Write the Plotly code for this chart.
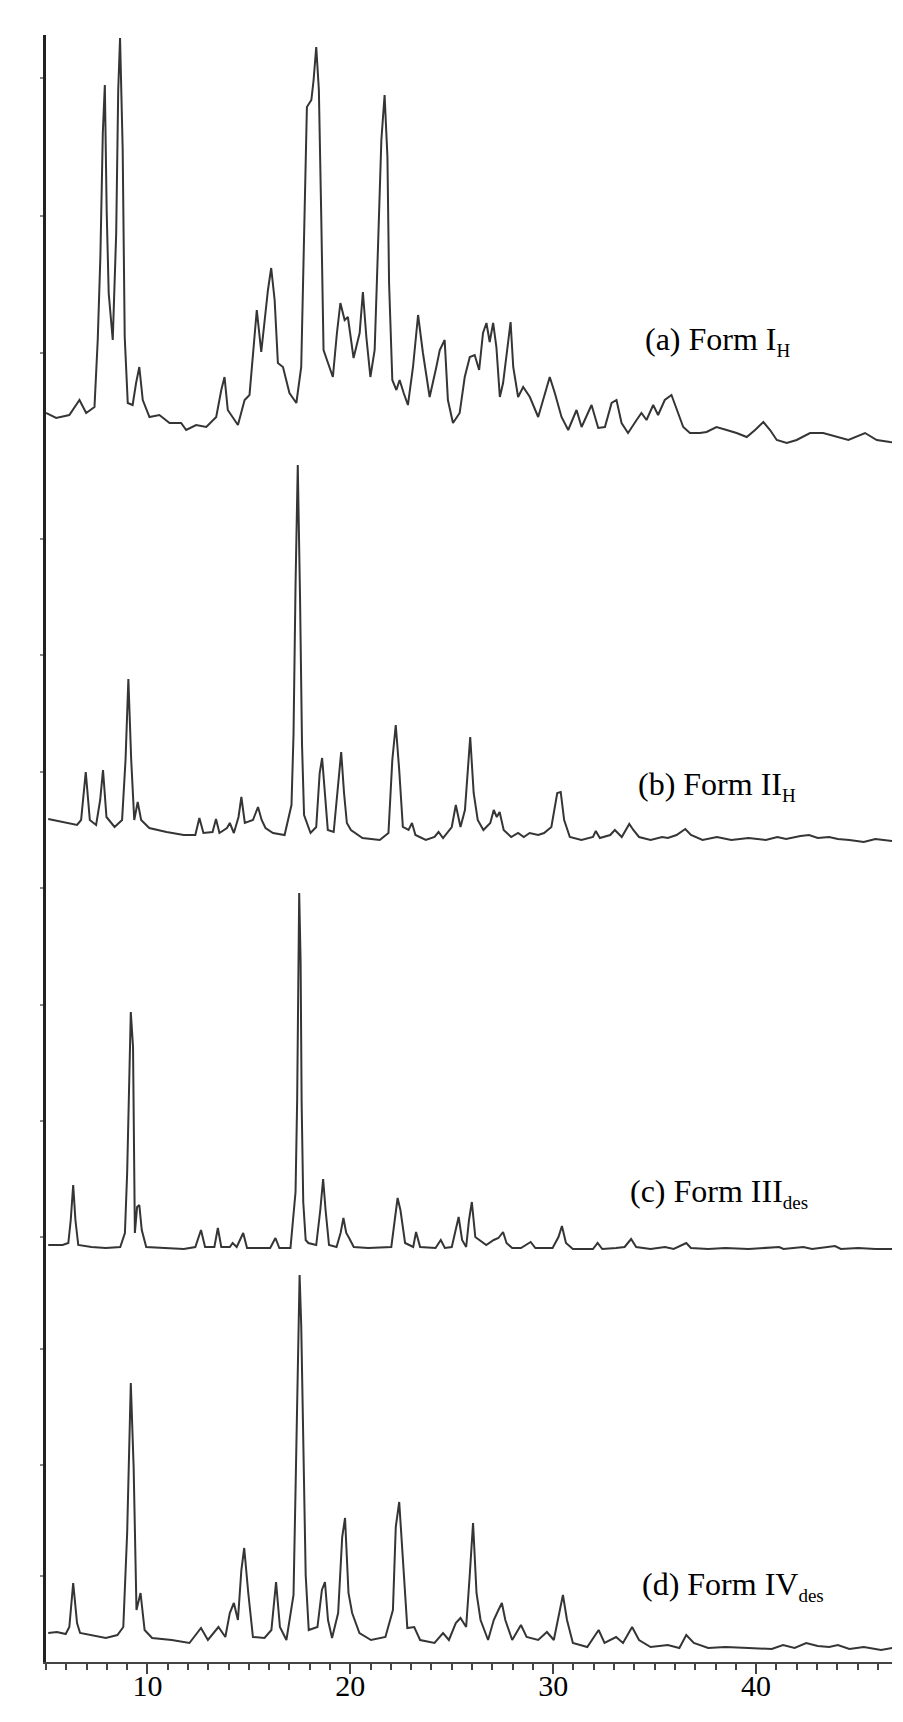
"""
Stacked XRPD patterns of four solid forms
"""
import plotly.graph_objects as go

# (a) Form I_H -- 2theta (deg) and intensity (arb. units)
tt_a = [5.0, 5.5, 6.15, 6.65, 6.98, 7.39, 7.55, 7.68, 7.8, 7.9, 7.99, 8.09, 8.29, 8.46, 8.56, 8.65,
        8.78, 8.88, 9.03, 9.27, 9.44, 9.6, 9.77, 10.1, 10.59, 11.09, 11.66, 11.91, 12.4, 12.9,
        13.39, 13.64, 13.8, 13.96, 14.46, 14.79, 15.03, 15.2, 15.39, 15.61, 15.77, 15.94, 16.1,
        16.27, 16.43, 16.68, 17.0, 17.34, 17.58, 17.75, 17.86, 18.08, 18.19, 18.32, 18.45, 18.57,
        18.68, 18.9, 19.14, 19.34, 19.51, 19.72, 19.88, 20.16, 20.46, 20.62, 20.79, 20.99, 21.2,
        21.36, 21.53, 21.69, 21.83, 21.91, 22.07, 22.27, 22.43, 22.63, 22.84, 23.09, 23.34, 23.58,
        23.91, 24.24, 24.41, 24.65, 24.81, 25.06, 25.39, 25.64, 25.89, 26.13, 26.35, 26.54, 26.71,
        26.87, 27.04, 27.2, 27.37, 27.53, 27.78, 27.9, 28.03, 28.27, 28.52, 28.85, 29.26, 29.59,
        29.83, 30.08, 30.41, 30.74, 31.15, 31.4, 31.89, 32.22, 32.55, 32.88, 33.12, 33.37, 33.69,
        34.11, 34.35, 34.6, 34.93, 35.17, 35.5, 35.83, 36.08, 36.41, 36.74, 37.23, 37.56, 38.05,
        38.55, 39.04, 39.54, 39.95, 40.36, 40.69, 41.02, 41.51, 42.0, 42.66, 43.31, 43.98, 44.55,
        45.37, 45.95, 46.6, 47.17]
int_a = [32, 27, 30, 45, 32, 38, 105, 188, 312, 360, 235, 152, 105, 212, 355, 407,
         295, 108, 42, 40, 62, 78, 45, 28, 30, 22, 22, 15, 20, 18,
         28, 55, 68, 35, 20, 45, 50, 92, 135, 93, 122, 155, 177,
         145, 82, 78, 52, 42, 78, 222, 338, 345, 365, 398, 355, 225,
         95, 82, 68, 112, 142, 125, 128, 87, 112, 153, 108, 68, 95,
         195, 305, 350, 288, 162, 65, 55, 65, 52, 40, 78, 130, 92,
         48, 78, 95, 105, 45, 22, 32, 68, 88, 90, 75, 112, 122,
         103, 122, 98, 48, 62, 102, 123, 78, 48, 58, 48, 28, 52,
         68, 52, 28, 15, 35, 18, 40, 17, 18, 42, 45, 22, 12,
         25, 32, 25, 40, 30, 45, 50, 37, 18, 12, 12, 13, 18,
         15, 12, 8, 15, 23, 15, 5, 2, 5, 12, 12, 8, 5,
         12, 5, 3, 2]

# (b) Form II_H
tt_b = [5.11, 5.82, 6.53, 6.73, 6.96, 7.16, 7.47, 7.67, 7.81, 7.98, 8.38, 8.75, 8.92, 9.06, 9.2,
        9.35, 9.52, 9.69, 10.09, 10.94, 11.79, 12.36, 12.56, 12.76, 13.21, 13.38, 13.55, 13.92,
        14.06, 14.26, 14.49, 14.63, 14.8, 15.2, 15.45, 15.63, 15.82, 16.19, 16.76, 17.1, 17.2,
        17.3, 17.41, 17.52, 17.62, 17.72, 18.04, 18.32, 18.49, 18.61, 18.75, 18.89, 19.18, 19.4,
        19.55, 19.69, 19.83, 20.03, 20.6, 21.45, 21.88, 22.07, 22.24, 22.41, 22.59, 22.87, 23.04,
        23.21, 23.72, 24.15, 24.35, 24.57, 25.0, 25.2, 25.43, 25.65, 25.91, 26.08, 26.28, 26.56,
        26.9, 27.07, 27.22, 27.36, 27.56, 27.93, 28.27, 28.55, 28.84, 29.26, 29.55, 29.91, 30.2,
        30.37, 30.54, 30.82, 31.39, 31.96, 32.1, 32.3, 32.81, 33.04, 33.38, 33.75, 33.95, 34.23,
        34.8, 35.37, 35.65, 36.08, 36.51, 36.79, 37.36, 38.07, 38.78, 39.63, 40.48, 41.05, 41.48,
        42.19, 42.61, 43.04, 43.6, 44.03, 44.6, 45.31, 45.88, 46.73]
int_b = [26, 23, 20, 25, 73, 25, 20, 45, 75, 28, 18, 25, 85, 166, 85,
         25, 43, 25, 17, 13, 10, 10, 27, 12, 13, 26, 12, 17,
         22, 12, 28, 48, 22, 25, 38, 25, 17, 12, 10, 40, 110,
         260, 380, 250, 100, 30, 12, 18, 72, 87, 52, 15, 13, 58,
         93, 52, 22, 15, 7, 5, 12, 85, 120, 75, 18, 15, 22,
         10, 5, 8, 13, 7, 18, 40, 18, 35, 108, 52, 25, 15,
         22, 35, 28, 33, 15, 8, 12, 8, 12, 10, 12, 18, 52,
         53, 25, 8, 5, 8, 14, 7, 10, 15, 8, 21, 15, 8,
         5, 8, 7, 10, 16, 10, 5, 8, 5, 7, 5, 8, 6,
         9, 10, 7, 8, 6, 5, 3, 6, 4]

# (c) Form III_des
tt_c = [5.11, 5.82, 6.1, 6.22, 6.34, 6.45, 6.59, 7.24, 7.95, 8.66, 8.89, 9.0, 9.18, 9.29, 9.38,
        9.49, 9.6, 9.72, 9.94, 10.65, 11.79, 12.36, 12.64, 12.84, 13.3, 13.47, 13.64, 14.06, 14.2,
        14.4, 14.72, 14.91, 16.05, 16.31, 16.5, 17.05, 17.3, 17.38, 17.42, 17.48, 17.55, 17.6,
        17.68, 17.8, 17.93, 18.32, 18.52, 18.66, 18.78, 18.95, 19.32, 19.52, 19.66, 19.8, 19.94,
        20.17, 20.88, 22.02, 22.19, 22.33, 22.47, 22.7, 23.1, 23.24, 23.44, 24.2, 24.46, 24.66,
        25.0, 25.2, 25.34, 25.51, 25.71, 25.85, 25.99, 26.16, 26.36, 26.7, 27.07, 27.3, 27.53,
        27.7, 27.98, 28.41, 28.89, 29.12, 29.97, 30.26, 30.43, 30.63, 30.97, 31.96, 32.19, 32.42,
        33.1, 33.52, 33.84, 34.09, 34.8, 35.51, 35.94, 36.56, 36.79, 37.64, 38.49, 39.63, 41.14,
        41.35, 42.33, 42.76, 43.89, 44.18, 45.03, 45.88, 46.73]
int_c = [7, 7, 9, 32, 67, 32, 7, 5, 4, 5, 19, 79, 240, 205, 19,
         45, 47, 22, 5, 4, 3, 5, 22, 5, 5, 24, 5, 5, 9,
         5, 19, 4, 4, 14, 4, 4, 60, 152, 275, 359, 290, 150,
         50, 12, 9, 7, 42, 73, 42, 7, 5, 19, 34, 19, 14,
         5, 4, 5, 32, 54, 42, 9, 5, 20, 5, 4, 12, 4,
         5, 24, 35, 12, 5, 32, 50, 15, 12, 7, 12, 14, 20,
         9, 4, 4, 10, 4, 4, 15, 26, 9, 3, 3, 9, 3,
         4, 5, 13, 5, 3, 5, 3, 9, 4, 3, 4, 3, 5,
         3, 5, 3, 6, 3, 4, 3, 3]

# (d) Form IV_des
tt_d = [5.11, 5.54, 5.97, 6.15, 6.34, 6.53, 6.68, 7.24, 7.95, 8.52, 8.81, 9.0, 9.18, 9.32, 9.46,
        9.66, 9.86, 10.23, 11.2, 12.07, 12.64, 12.98, 13.5, 13.84, 14.06, 14.26, 14.46, 14.63,
        14.77, 14.97, 15.2, 15.77, 16.11, 16.34, 16.53, 16.85, 17.2, 17.3, 17.4, 17.5, 17.58,
        17.68, 17.8, 17.95, 18.38, 18.6, 18.75, 18.9, 19.1, 19.4, 19.6, 19.74, 19.91, 20.09,
        20.45, 21.02, 21.73, 22.1, 22.24, 22.41, 22.59, 22.81, 23.15, 23.44, 24.15, 24.57, 24.86,
        25.2, 25.43, 25.71, 25.88, 26.05, 26.22, 26.42, 26.79, 27.07, 27.3, 27.47, 27.64, 27.98,
        28.41, 28.69, 29.26, 29.69, 30.03, 30.31, 30.48, 30.68, 30.97, 31.68, 32.24, 32.53, 33.1,
        33.44, 33.89, 34.23, 34.8, 35.65, 36.22, 36.56, 36.93, 37.64, 38.49, 39.63, 40.77, 41.33,
        41.9, 42.47, 43.04, 43.6, 44.03, 44.6, 45.31, 46.16, 46.73]
int_d = [22, 23, 21, 28, 72, 32, 22, 20, 17, 20, 28, 122, 272, 188, 45,
         62, 25, 17, 15, 12, 27, 15, 28, 18, 42, 52, 35, 85,
         107, 62, 18, 17, 25, 73, 28, 15, 60, 165, 280, 380, 330,
         200, 80, 25, 28, 65, 73, 35, 17, 42, 118, 137, 62, 42,
         22, 15, 18, 45, 128, 153, 95, 27, 28, 15, 12, 22, 15,
         32, 37, 28, 78, 132, 62, 35, 15, 35, 45, 52, 35, 15,
         30, 18, 15, 23, 15, 42, 60, 35, 12, 8, 25, 12, 18,
         12, 28, 15, 8, 10, 7, 20, 12, 7, 8, 7, 6, 10,
         7, 12, 9, 8, 10, 6, 8, 5, 7]

labels = ["(a) Form I<sub><span style='font-size:19px'>H</span></sub>",
          "(b) Form II<sub><span style='font-size:19px'>H</span></sub>",
          "(c) Form III<sub><span style='font-size:19px'>des</span></sub>",
          "(d) Form IV<sub><span style='font-size:19px'>des</span></sub>"]

# vertical stacking offsets and label anchors (data units)
offsets = [1217, 817, 410, 7]
label_x = [34.42, 34.07, 33.68, 34.27]
label_y = [1321, 876, 469, 76]

fig = go.Figure()

for tt, inten, off in zip([tt_a, tt_b, tt_c, tt_d], [int_a, int_b, int_c, int_d], offsets):
    fig.add_trace(
        go.Scatter(
            x=tt,
            y=[v + off for v in inten],
            mode="lines",
            line=dict(color="#353535", width=2),
            showlegend=False,
        )
    )

for text, lx, ly in zip(labels, label_x, label_y):
    fig.add_annotation(
        x=lx,
        y=ly,
        xref="x",
        yref="y",
        text=text,
        showarrow=False,
        xanchor="left",
        yanchor="middle",
        font=dict(size=32, color="black", family="Liberation Serif, Times New Roman, serif"),
    )

# the page body keeps its default 8 px margin, so the figure is sized to fit inside it
fig.update_layout(
    template="simple_white",
    width=887,
    height=1706,
    margin=dict(l=38, r=3, t=27, b=52),
    paper_bgcolor="white",
    plot_bgcolor="white",
    font_family="Liberation Serif, Times New Roman, serif",
)

fig.update_xaxes(
    range=[5, 46.7],
    automargin=False,
    showline=True,
    linecolor="#444444",
    linewidth=2,
    mirror=False,
    showgrid=False,
    zeroline=False,
    tickmode="linear",
    tick0=0,
    dtick=10,
    ticks="outside",
    ticklen=10,
    tickwidth=2,
    tickcolor="#444444",
    ticklabelstandoff=-14,
    tickfont=dict(size=30, color="black"),
    minor=dict(dtick=1, tick0=0, ticks="outside", ticklen=6, tickwidth=1.5, tickcolor="#444444"),
)

fig.update_yaxes(
    range=[0, 1627],
    automargin=False,
    showline=True,
    linecolor="#222222",
    linewidth=2.5,
    mirror=False,
    showgrid=False,
    zeroline=False,
    tickmode="array",
    tickvals=[1584, 1446, 1309, 1123, 1007, 890, 774, 657, 541, 425, 313, 197, 86],
    ticks="outside",
    ticklen=3,
    tickwidth=1.5,
    tickcolor="#888888",
    showticklabels=False,
)

fig.write_html("out.html")
